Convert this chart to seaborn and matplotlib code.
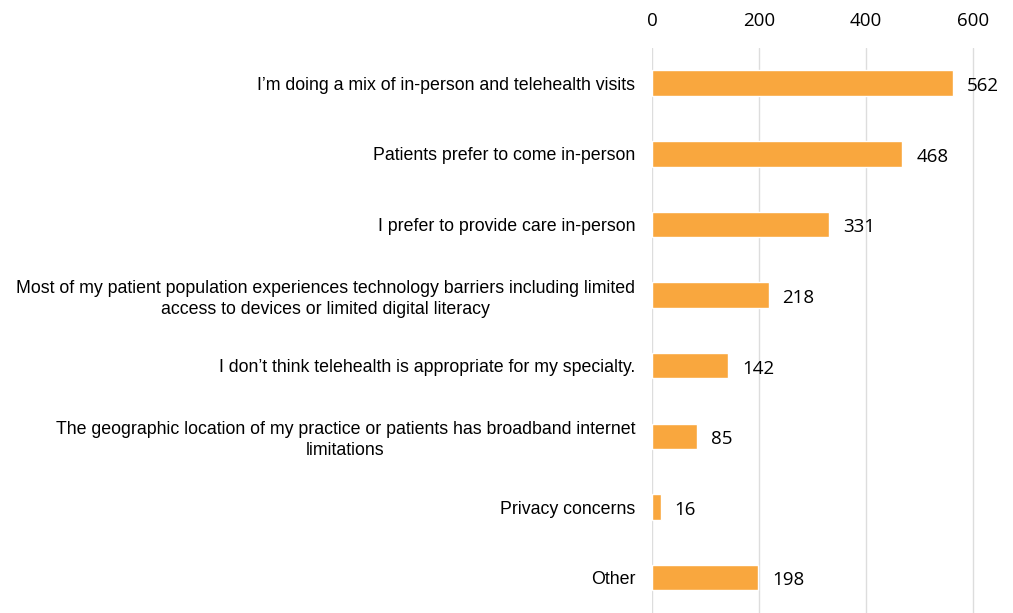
import seaborn as sns
import matplotlib.pyplot as plt
import pandas as pd

categories = [
    "I\u2019m doing a mix of in-person and telehealth visits",
    "Patients prefer to come in-person",
    "I prefer to provide care in-person",
    "Most of my patient population experiences technology barriers including limited\naccess to devices or limited digital literacy",
    "I don\u2019t think telehealth is appropriate for my specialty.",
    "The geographic location of my practice or patients has broadband internet\nlimitations",
    "Privacy concerns",
    "Other",
]
counts = [562, 468, 331, 218, 142, 85, 16, 198]
x_ticks = [0, 200, 400, 600]

sns.set_theme(style='white')
plt.rcParams['font.family'] = ['Liberation Sans', 'DejaVu Sans']

df = pd.DataFrame({'reason': categories, 'count': counts})

fig = plt.figure(figsize=(10.13, 6.13), dpi=100)
ax = fig.add_axes([0.6436, 0.0, 0.3196, 0.922])

sns.barplot(data=df, x='count', y='reason', color='#F9A73E', width=0.36,
            saturation=1, ax=ax)

ax.set_xlim(0, 605)
ax.set_ylim(len(categories) - 0.5, -0.5)
ax.set_xticks(x_ticks)
ax.xaxis.tick_top()
ax.tick_params(axis='x', length=0, pad=13, labelcolor='black')
ax.tick_params(axis='y', length=0, pad=12, labelcolor='black')
for lbl in ax.get_xticklabels():
    lbl.set_family(['Open Sans', 'DejaVu Sans'])
    lbl.set_fontsize(13.5)
for lbl in ax.get_yticklabels():
    lbl.set_multialignment('center')
    lbl.set_linespacing(1.3)
    lbl.set_fontsize(12.8)
ax.set_xlabel('')
ax.set_ylabel('')
ax.grid(axis='x', color='#DDDDDD', linewidth=1.0)
ax.set_axisbelow(True)
sns.despine(ax=ax, left=True, bottom=True, top=True, right=True)

for i, v in enumerate(counts):
    ax.annotate(f'{v}', xy=(v, i), xytext=(10, -2), textcoords='offset points',
                ha='left', va='center', fontsize=13.5, color='black',
                family=['Open Sans', 'DejaVu Sans'])

plt.savefig('out.png', dpi=100)
